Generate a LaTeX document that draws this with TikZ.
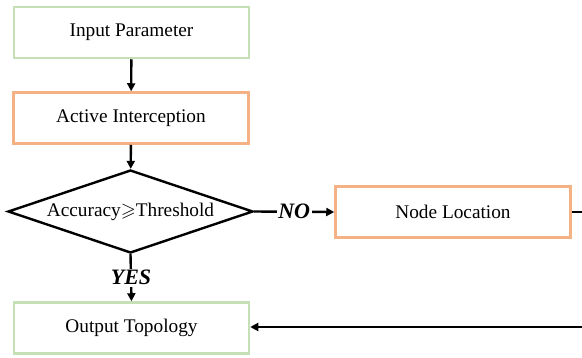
\documentclass[tikz,border=0pt]{standalone}
\usepackage{amssymb}
\usepackage{fontspec}
\setmainfont{Liberation Serif}
\usetikzlibrary{shapes.geometric,arrows.meta}
\definecolor{boxgreen}{RGB}{197,224,180}
\definecolor{boxorange}{RGB}{244,177,131}
\begin{document}
\begin{tikzpicture}[x=1pt,y=-1pt,
  box/.style={draw, line width=2.5pt, minimum width=235pt, minimum height=51pt, inner sep=0pt, font=\fontsize{19.3}{22}\selectfont},
  gbox/.style={box, draw=boxgreen},
  obox/.style={box, draw=boxorange},
  conn/.style={line width=2.4pt, -{Triangle[length=8pt,width=8pt]}},
  lab/.style={fill=white, inner sep=1.5pt, font=\fontsize{22}{24}\selectfont\bfseries\itshape}]
\useasboundingbox (0,0) rectangle (582,357);
\clip (0,0) rectangle (582,357);
\node[gbox] (in) at (131.5,32.5) {Input Parameter};
\node[obox] (ai) at (131,118) {Active Interception};
\node[draw, diamond, line width=2.4pt, minimum width=245pt, minimum height=83pt, aspect=2.95, inner sep=0pt, font=\fontsize{19.3}{22}\selectfont] (dec) at (130.5,211.5) {Accuracy$\geqslant$Threshold};
\node[obox] (nl) at (453,212) {Node Location};
\node[gbox] (out) at (131.5,328) {Output Topology};
\coordinate (r1) at (600,212);
\coordinate (r2) at (600,327);
\draw[conn] (in) -- (ai);
\draw[conn] (ai) -- (dec);
\draw[conn] (dec.east) -- node[lab] {NO} (nl.west);
\draw[conn] (dec.south) -- node[lab] {YES} (out.north);
\draw[conn] (nl.east) -- (r1) -- (r2) -- (out.east |- r2);
\end{tikzpicture}
\end{document}
